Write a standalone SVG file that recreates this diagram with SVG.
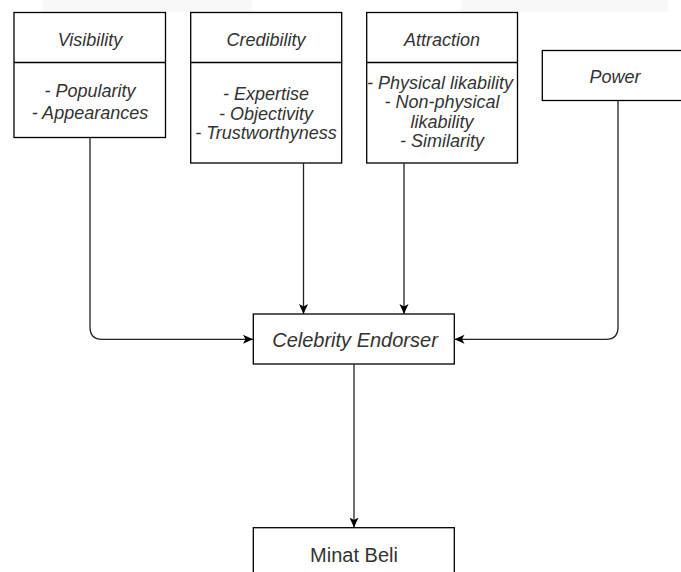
<svg xmlns="http://www.w3.org/2000/svg" width="681" height="572" viewBox="0 0 681 572">
<style>
.box{fill:#fff;stroke:#000;stroke-width:1.3}
.t{font-family:"Liberation Sans",Arial,sans-serif;font-style:italic;font-size:18px;fill:#333;text-anchor:middle}
.big{font-size:20px}
.up{font-style:normal}
.edge{fill:none;stroke:#222;stroke-width:1.3}
</style>
<defs>
<marker id="arr" markerUnits="userSpaceOnUse" markerWidth="10" markerHeight="10" viewBox="0 0 10 10" refX="10" refY="5" orient="auto">
<path d="M0,0.5 L10,5 L0,9.5 L2.5,5 z" fill="#000"/>
</marker>
</defs>
<rect x="43" y="0" width="209" height="12" fill="#f8f8f8"/>
<rect x="461" y="0" width="207" height="12" fill="#f8f8f8"/>
<g id="visibility">
<rect class="box" x="14" y="12.5" width="151.5" height="125"/>
<line class="box" x1="14" y1="62.5" x2="165.5" y2="62.5"/>
<text class="t" x="90" y="45.5">Visibility</text>
<text class="t" x="90" y="96.5">- Popularity</text>
<text class="t" x="90" y="118.5">- Appearances</text>
</g>
<g id="credibility">
<rect class="box" x="190.7" y="12.5" width="151" height="150.5"/>
<line class="box" x1="190.7" y1="62.5" x2="341.7" y2="62.5"/>
<text class="t" x="266" y="45.5">Credibility</text>
<text class="t" x="266" y="100">- Expertise</text>
<text class="t" x="266" y="119.5">- Objectivity</text>
<text class="t" x="266" y="139">- Trustworthyness</text>
</g>
<g id="attraction">
<rect class="box" x="366.7" y="12.5" width="150.8" height="150.5"/>
<line class="box" x1="366.7" y1="62.5" x2="517.5" y2="62.5"/>
<text class="t" x="442" y="45.5">Attraction</text>
<text class="t" x="440" y="88.5">- Physical likability</text>
<text class="t" x="442" y="108">- Non-physical</text>
<text class="t" x="442" y="127.5">likability</text>
<text class="t" x="442" y="147">- Similarity</text>
</g>
<g id="power">
<rect class="box" x="542.3" y="50.5" width="146" height="50"/>
<text class="t" x="615" y="83">Power</text>
</g>
<g id="celebrity">
<rect class="box" x="253.3" y="314" width="201" height="50"/>
<text class="t big" x="355" y="347">Celebrity Endorser</text>
</g>
<g id="minat">
<rect class="box" x="253.3" y="527.7" width="201" height="50"/>
<text class="t big up" x="354" y="561.5">Minat Beli</text>
</g>
<g id="connectors">
<path class="edge" d="M90,138 V327 Q90,339.3 102,339.3 H253" marker-end="url(#arr)"/>
<path class="edge" d="M303.5,163 V314" marker-end="url(#arr)"/>
<path class="edge" d="M404,163 V314" marker-end="url(#arr)"/>
<path class="edge" d="M618,101 V327 Q618,339.3 606,339.3 H454.5" marker-end="url(#arr)"/>
<path class="edge" d="M354,364 V527.5" marker-end="url(#arr)"/>
</g>
</svg>
